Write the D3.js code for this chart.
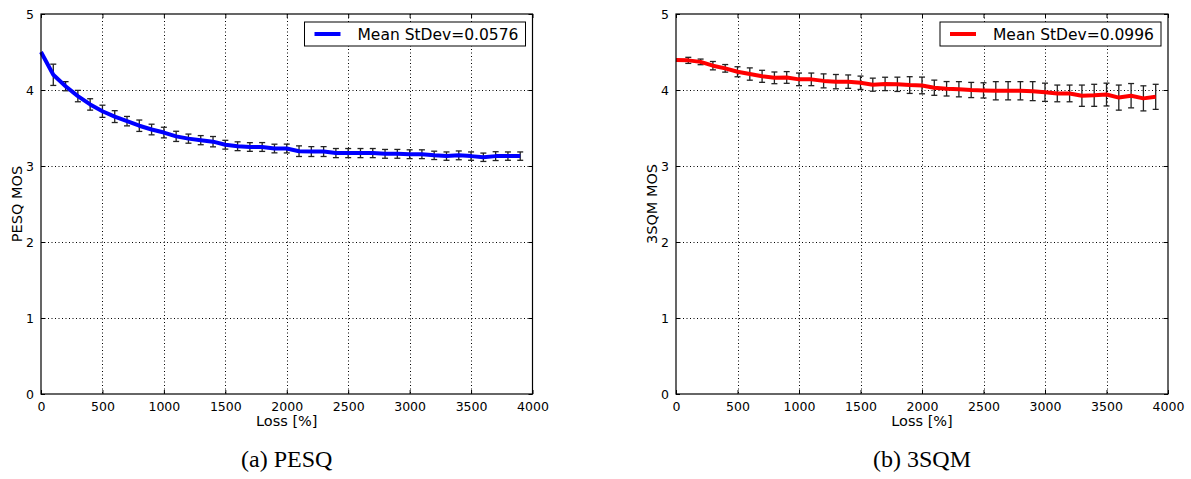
<!DOCTYPE html>
<html><head><meta charset="utf-8">
<script src="https://cdn.jsdelivr.net/npm/d3@7/dist/d3.min.js"></script>
<style>
html,body{margin:0;padding:0;background:#fff;}
svg{display:block;}
</style></head>
<body><svg id="chart" width="1191" height="479"></svg>
<script>
const lossPct = [0,100,200,300,400,500,600,700,800,900,1000,1100,1200,1300,1400,1500,1600,1700,1800,1900,2000,2100,2200,2300,2400,2500,2600,2700,2800,2900,3000,3100,3200,3300,3400,3500,3600,3700,3800,3900];
const xTicks = [0,500,1000,1500,2000,2500,3000,3500,4000];
const yTicks = [0,1,2,3,4,5];

const pesqMean = [4.50,4.20,4.05,3.92,3.81,3.72,3.65,3.59,3.53,3.48,3.44,3.39,3.36,3.34,3.32,3.28,3.26,3.25,3.25,3.23,3.23,3.195,3.19,3.19,3.17,3.17,3.17,3.17,3.16,3.16,3.155,3.155,3.14,3.13,3.14,3.13,3.115,3.13,3.13,3.13];
const pesqStd = [null,0.14,0.06,0.075,0.075,0.08,0.078,0.062,0.075,0.07,0.07,0.067,0.06,0.06,0.068,0.058,0.058,0.057,0.058,0.057,0.058,0.07,0.065,0.065,0.06,0.06,0.06,0.06,0.058,0.058,0.058,0.058,0.055,0.055,0.058,0.055,0.055,0.058,0.055,0.055];

const sqmMean = [4.394,4.39,4.37,4.32,4.285,4.24,4.21,4.18,4.16,4.165,4.14,4.14,4.12,4.11,4.11,4.095,4.07,4.08,4.075,4.065,4.06,4.03,4.016,4.01,4.0,3.995,3.99,3.99,3.99,3.985,3.97,3.955,3.955,3.925,3.93,3.94,3.90,3.925,3.89,3.91];
const sqmStd = [null,0.04,0.037,0.055,0.05,0.066,0.081,0.079,0.077,0.077,0.083,0.083,0.092,0.094,0.088,0.088,0.086,0.088,0.094,0.11,0.11,0.10,0.095,0.10,0.10,0.10,0.12,0.12,0.12,0.125,0.12,0.11,0.11,0.14,0.145,0.15,0.165,0.16,0.165,0.165];

const panels = [
  {left:41, right:532.5, mean:pesqMean, std:pesqStd, color:"#0000ff", ylabel:"PESQ MOS", legend:"Mean StDev=0.0576", caption:"(a) PESQ"},
  {left:676, right:1168, mean:sqmMean, std:sqmStd, color:"#ff0000", ylabel:"3SQM MOS", legend:"Mean StDev=0.0996", caption:"(b) 3SQM"}
];
const plotTop = 14, plotBottom = 394;
const svg = d3.select("#chart");
const sans = "'DejaVu Sans', sans-serif";

panels.forEach(p => {
  const x = d3.scaleLinear().domain([0,4000]).range([p.left, p.right]);
  const y = d3.scaleLinear().domain([0,5]).range([plotBottom, plotTop]);
  const g = svg.append("g");

  // grid
  g.append("g").selectAll("line").data(xTicks.slice(1,-1)).join("line")
    .attr("x1", d => Math.round(x(d))+0.5).attr("x2", d => Math.round(x(d))+0.5).attr("y1", plotTop).attr("y2", plotBottom)
    .attr("stroke","#000").attr("stroke-width",1).attr("stroke-dasharray","1,2.5");
  g.append("g").selectAll("line").data(yTicks.slice(1,-1)).join("line")
    .attr("y1", d => Math.round(y(d))+0.5).attr("y2", d => Math.round(y(d))+0.5).attr("x1", p.left).attr("x2", p.right)
    .attr("stroke","#000").attr("stroke-width",1).attr("stroke-dasharray","1,2.5");

  // axes (inward ticks)
  const ax = g.append("g").attr("transform",`translate(0,${plotBottom})`)
    .call(d3.axisBottom(x).tickValues(xTicks).tickSizeInner(-4).tickSizeOuter(0).tickPadding(8).tickFormat(d3.format("d")));
  const axT = g.append("g").attr("transform",`translate(0,${plotTop})`)
    .call(d3.axisTop(x).tickValues(xTicks).tickSizeInner(-4).tickSizeOuter(0).tickFormat(""));
  const ay = g.append("g").attr("transform",`translate(${p.left},0)`)
    .call(d3.axisLeft(y).tickValues(yTicks).tickSizeInner(-4).tickSizeOuter(0).tickPadding(7).tickFormat(d3.format("d")));
  const ayR = g.append("g").attr("transform",`translate(${p.right},0)`)
    .call(d3.axisRight(y).tickValues(yTicks).tickSizeInner(-4).tickSizeOuter(0).tickFormat(""));
  [ax,axT,ay,ayR].forEach(a => {
    a.select(".domain").remove();
    a.selectAll(".tick line").attr("stroke","#000");
    a.selectAll("text").attr("font-family", sans).attr("font-size", 12.5).attr("fill","#000");
  });

  // error bars
  const eb = g.append("g").attr("stroke","#222").attr("stroke-width",1.3);
  const pts = lossPct.map((v,i) => ({x:v, m:p.mean[i], s:p.std[i]})).filter(d => d.s != null);
  eb.selectAll("line.v").data(pts).join("line").attr("class","v")
    .attr("x1", d => x(d.x)).attr("x2", d => x(d.x))
    .attr("y1", d => y(d.m + d.s)).attr("y2", d => y(d.m - d.s));
  eb.selectAll("line.t").data(pts).join("line").attr("class","t")
    .attr("x1", d => x(d.x)-3).attr("x2", d => x(d.x)+3)
    .attr("y1", d => y(d.m + d.s)).attr("y2", d => y(d.m + d.s));
  eb.selectAll("line.b").data(pts).join("line").attr("class","b")
    .attr("x1", d => x(d.x)-3).attr("x2", d => x(d.x)+3)
    .attr("y1", d => y(d.m - d.s)).attr("y2", d => y(d.m - d.s));

  // mean line
  const line = d3.line().x((d,i) => x(lossPct[i])).y(d => y(d));
  g.append("path").datum(p.mean).attr("d", line)
    .attr("fill","none").attr("stroke", p.color).attr("stroke-width",4).attr("stroke-linejoin","round");

  // frame
  g.append("rect").attr("x", p.left).attr("y", plotTop).attr("width", p.right - p.left).attr("height", plotBottom - plotTop)
    .attr("fill","none").attr("stroke","#000").attr("stroke-width",1.2);

  // legend
  const lx = p.right - 228, ly = 22;
  g.append("rect").attr("x", lx).attr("y", ly).attr("width", 221).attr("height", 24)
    .attr("fill","#fff").attr("stroke","#000").attr("stroke-width",1);
  g.append("line").attr("x1", lx+10).attr("x2", lx+36).attr("y1", ly+12).attr("y2", ly+12)
    .attr("stroke", p.color).attr("stroke-width",4);
  g.append("text").attr("x", lx+53).attr("y", ly+17.5).attr("font-family", sans).attr("font-size", 15.5)
    .text(p.legend);

  // axis labels
  g.append("text").attr("x", (p.left+p.right)/2).attr("y", 426).attr("text-anchor","middle")
    .attr("font-family", sans).attr("font-size", 14.5).text("Loss [%]");
  g.append("text").attr("transform", `translate(${p.left-19},${(plotTop+plotBottom)/2}) rotate(-90)`)
    .attr("text-anchor","middle").attr("font-family", sans).attr("font-size", 14.5).text(p.ylabel);

  // caption
  g.append("text").attr("x", (p.left+p.right)/2).attr("y", 467).attr("text-anchor","middle")
    .attr("font-family","'Liberation Serif', serif").attr("font-size", 24).text(p.caption);
});
</script></body></html>
